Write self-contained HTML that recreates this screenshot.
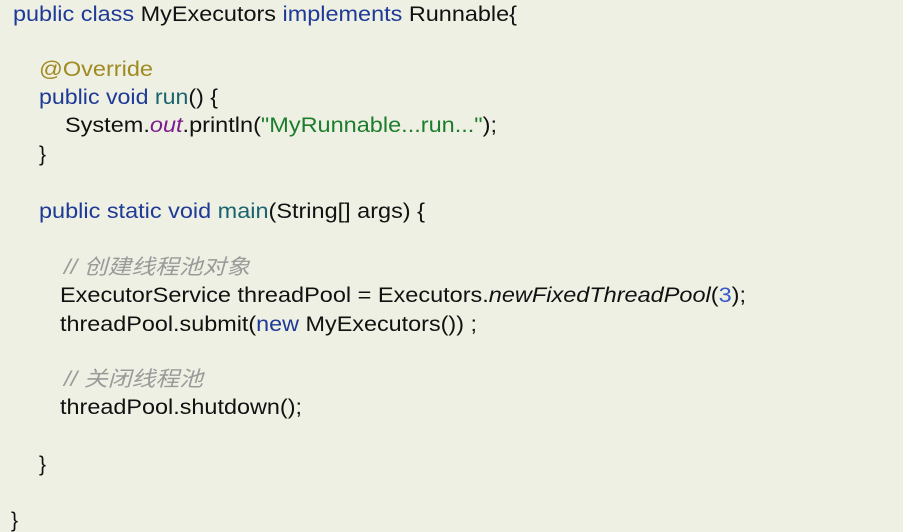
<!DOCTYPE html>
<html><head><meta charset="utf-8"><style>
html,body{margin:0;padding:0;background:#eef0e3;}
svg{display:block}
text{font-family:"Liberation Sans","Noto Sans CJK SC",sans-serif;font-size:21px;fill:#111;}
.k{fill:#1f3a96}.m{fill:#1a6470}.a{fill:#a08a22}.s{fill:#1e7d2c}.o{fill:#7c1c8e;font-style:italic}
.n{fill:#3658c8}.c{fill:#9a9a9a;font-style:italic}.i{font-style:italic}
</style></head><body>
<svg width="903" height="532" viewBox="0 0 903 532">
<rect width="903" height="532" fill="#eef0e3"/>
<text x="13" y="21" textLength="504" lengthAdjust="spacingAndGlyphs"><tspan class="k">public class</tspan> MyExecutors <tspan class="k">implements</tspan> Runnable{</text>
<text x="39" y="76" textLength="114" lengthAdjust="spacingAndGlyphs" class="a">@Override</text>
<text x="39" y="104" textLength="179" lengthAdjust="spacingAndGlyphs"><tspan class="k">public void</tspan> <tspan class="m">run</tspan>() {</text>
<text x="65" y="132" textLength="432" lengthAdjust="spacingAndGlyphs">System.<tspan class="o">out</tspan>.println(<tspan class="s">"MyRunnable...run..."</tspan>);</text>
<text x="39" y="161">}</text>
<text x="39" y="218" textLength="386" lengthAdjust="spacingAndGlyphs"><tspan class="k">public static void</tspan> <tspan class="m">main</tspan>(String[] args) {</text>
<text x="64" y="274" textLength="186" lengthAdjust="spacingAndGlyphs" class="c">// 创建线程池对象</text>
<text x="60" y="302" textLength="686" lengthAdjust="spacingAndGlyphs">ExecutorService threadPool = Executors.<tspan class="i">newFixedThreadPool</tspan>(<tspan class="n">3</tspan>);</text>
<text x="60" y="331" textLength="417" lengthAdjust="spacingAndGlyphs">threadPool.submit(<tspan class="k">new</tspan> MyExecutors()) ;</text>
<text x="64" y="386" textLength="139" lengthAdjust="spacingAndGlyphs" class="c">// 关闭线程池</text>
<text x="60" y="414" textLength="242" lengthAdjust="spacingAndGlyphs">threadPool.shutdown();</text>
<text x="39" y="471">}</text>
<text x="11" y="527">}</text>
</svg>
</body></html>
